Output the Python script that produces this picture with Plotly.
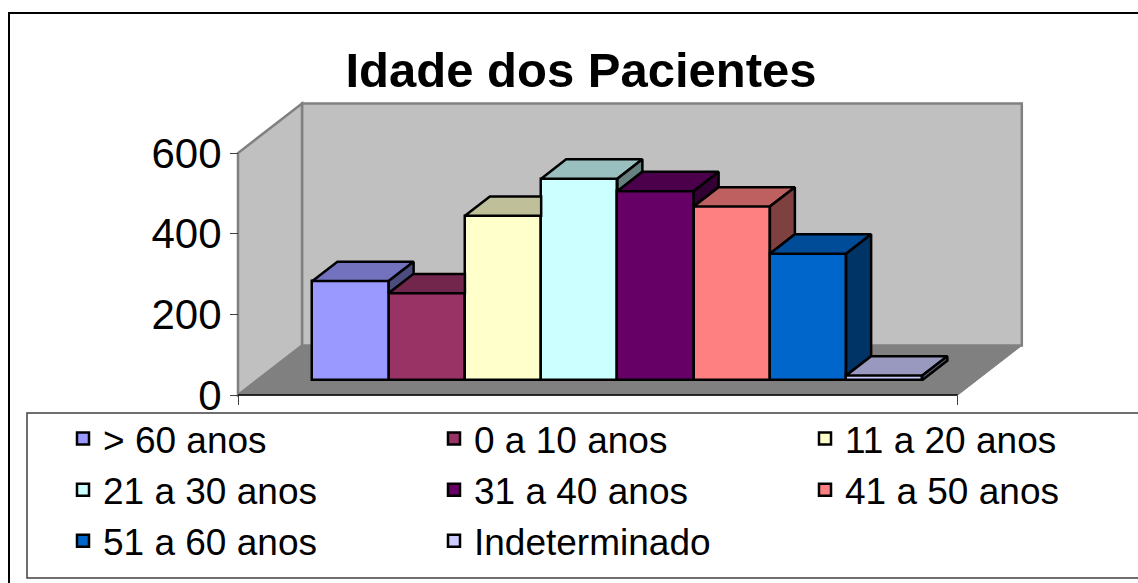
import plotly.graph_objects as go

# ---------------- data ----------------
categories = ["> 60 anos", "0 a 10 anos", "11 a 20 anos", "21 a 30 anos",
              "31 a 40 anos", "41 a 50 anos", "51 a 60 anos", "Indeterminado"]
values = [245, 215, 407, 499, 468, 430, 313, 11]
colors = ["#9999FF", "#993366", "#FFFFCC", "#CCFFFF",
          "#660066", "#FF8080", "#0066CC", "#CCCCFF"]
y_ticks = [0, 200, 400, 600]
y_tick_text = ["0", "200", "400", "600"]
title_text = "Idade dos Pacientes"

# ---------------- geometry / style ----------------
W, H = 1138, 583
FONT = "Arial, Liberation Sans, sans-serif"
U = 76.25               # px per bar slot on the x axis
VPX = 242 / 600         # px per value unit
DX = 64 / U             # full depth offset, x units
DV = 49.5 / VPX         # full depth offset, value units
Z1, Z2 = 0.305, 0.695   # bar depth span (fraction of floor depth)
GAP = 0.72              # floor margin each side (x units)
AX_X, AX_Y = 238, 395   # front-left floor corner in px
n = len(values)
xL, xR = -GAP, n + GAP
X0 = AX_X + GAP * U
x_range = [-X0 / U, (W - X0) / U]
y_range = [-(H - AX_Y) / VPX, AX_Y / VPX]
y_top = y_ticks[-1]
legend_widths = [326, 326, 250, 326, 326, 250, 326, 326]


def shade(hexcol, f):
    h = hexcol.lstrip("#")
    r, g, b = (int(h[k:k + 2], 16) for k in (0, 2, 4))
    return "#%02X%02X%02X" % (int(r * f), int(g * f), int(b * f))


def P(x, v, z):
    return (x + z * DX, v + z * DV)


fig = go.Figure()

# front faces: real bars
for i, (name, val, col) in enumerate(zip(categories, values, colors)):
    fig.add_trace(go.Bar(
        x=[i + 0.5 + Z1 * DX], y=[val], base=[Z1 * DV], width=[1],
        name=name, marker=dict(color=col, line=dict(color="black", width=2.5)),
        legendwidth=legend_widths[i], showlegend=True, hoverinfo="name+y"))

# top and side faces (visible parts only), derived from the values
for i, (val, col) in enumerate(zip(values, colors)):
    h = val
    hn = values[i + 1] if i + 1 < n else None
    FL, FR, BR, BL = P(i, h, Z1), P(i + 1, h, Z1), P(i + 1, h, Z2), P(i, h, Z2)
    if hn is None or hn <= h:
        poly = [FL, FR, BR, BL]
    else:
        d = hn - h
        if d >= (Z2 - Z1) * DV:
            poly = [FL, FR, (FR[0], h + Z2 * DV), BL]
        else:
            zq = Z2 - d / DV
            poly = [FL, FR, P(i + 1, hn, Z1), P(i + 1, hn, zq), BL]
    xs = [p[0] for p in poly] + [poly[0][0]]
    ys = [p[1] for p in poly] + [poly[0][1]]
    fig.add_trace(go.Scatter(x=xs, y=ys, mode="lines", fill="toself",
                             fillcolor=shade(col, 0.75),
                             line=dict(color="black", width=2.5),
                             showlegend=False, hoverinfo="skip"))
    lo = 0 if hn is None else min(hn, h)
    if h > lo:
        side = [P(i + 1, lo, Z1), P(i + 1, h, Z1), P(i + 1, h, Z2), P(i + 1, lo, Z2)]
        xs = [p[0] for p in side] + [side[0][0]]
        ys = [p[1] for p in side] + [side[0][1]]
        fig.add_trace(go.Scatter(x=xs, y=ys, mode="lines", fill="toself",
                                 fillcolor=shade(col, 0.5),
                                 line=dict(color="black", width=2.5),
                                 showlegend=False, hoverinfo="skip"))

# walls and floor
shapes = []
shapes.append(dict(type="rect", xref="x", yref="y", layer="below",
                   x0=xL + DX, x1=xR + DX, y0=DV, y1=y_top + DV,
                   fillcolor="#C0C0C0", line=dict(color="#808080", width=2.5)))
shapes.append(dict(type="path", xref="x", yref="y", layer="below",
                   path=f"M {xL},0 L {xL},{y_top} L {xL + DX},{y_top + DV} L {xL + DX},{DV} Z",
                   fillcolor="#C0C0C0", line=dict(color="#808080", width=2.5)))
shapes.append(dict(type="path", xref="x", yref="y", layer="below",
                   path=f"M {xL},0 L {xR},0 L {xR + DX},{DV} L {xL + DX},{DV} Z",
                   fillcolor="#808080", line=dict(color="#808080", width=1)))
shapes.append(dict(type="line", xref="x", yref="y", layer="below",
                   x0=xL, x1=xR, y0=0, y1=0, line=dict(color="black", width=1.5)))
# outer chart border & legend box (paper coords), both running off the right/bottom edge
shapes.append(dict(type="rect", xref="paper", yref="paper",
                   x0=9 / W, x1=1.1, y0=-0.1, y1=1 - 13 / H,
                   line=dict(color="black", width=2)))
shapes.append(dict(type="rect", xref="paper", yref="paper",
                   x0=27 / W, x1=1.1, y0=1 - 578 / H, y1=1 - 413 / H,
                   line=dict(color="#404040", width=1.5)))

fig.update_layout(
    width=W, height=H, margin=dict(l=0, r=0, t=0, b=0),
    paper_bgcolor="white", plot_bgcolor="white",
    barmode="overlay", bargap=0,
    font=dict(family=FONT, color="black"),
    title=dict(text=title_text, x=581 / W, xanchor="center", y=1 - 70 / H,
               yanchor="middle", font=dict(size=49, family=FONT, weight="bold", color="black")),
    shapes=shapes,
    xaxis=dict(range=x_range, showgrid=False, zeroline=False, showline=False,
               showticklabels=False, tickvals=[xL, xR], ticks="outside", ticklen=9,
               tickcolor="#404040", tickwidth=1, anchor="free", position=(H - AX_Y) / H,
               fixedrange=True),
    yaxis=dict(range=y_range, showgrid=False, zeroline=False, showline=False,
               tickvals=y_ticks, ticktext=y_tick_text, ticks="outside", ticklen=8,
               tickcolor="#404040", tickwidth=1, tickfont=dict(size=42, family=FONT),
               ticklabelstandoff=0, anchor="free", position=AX_X / W, fixedrange=True),
    legend=dict(orientation="h", entrywidth=326, entrywidthmode="pixels",
                x=63 / W, xanchor="left", y=1 - 408 / H, yanchor="top",
                font=dict(size=37, family=FONT), bgcolor="rgba(0,0,0,0)",
                borderwidth=0, traceorder="normal"),
)

fig.write_html("out.html",
               config={"displayModeBar": False},
               post_script="document.body.style.margin='0';"
                           "document.documentElement.style.overflow='hidden';"
                           "document.body.style.overflow='hidden';")
